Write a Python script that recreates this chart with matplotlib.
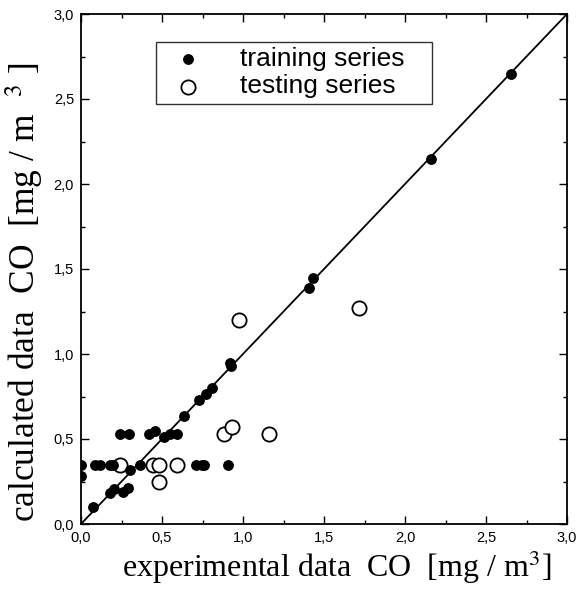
import matplotlib
matplotlib.use("Agg")
import matplotlib.pyplot as plt
from matplotlib.ticker import MultipleLocator, FuncFormatter

plt.rcParams["mathtext.fontset"] = "stix"

train_x = [0.0, 0.0, 0.076, 0.086, 0.117, 0.18, 0.20, 0.18, 0.204, 0.26, 0.29, 0.30,
           0.24, 0.296, 0.364, 0.42, 0.457, 0.512, 0.55, 0.595, 0.636, 0.73, 0.77,
           0.81, 0.92, 0.925, 0.71, 0.745, 0.76, 0.905, 1.41, 1.434, 2.16, 2.652]
train_y = [0.35, 0.28, 0.10, 0.35, 0.35, 0.35, 0.35, 0.18, 0.206, 0.19, 0.21, 0.32,
           0.53, 0.53, 0.35, 0.53, 0.55, 0.51, 0.53, 0.53, 0.635, 0.73, 0.763,
           0.80, 0.945, 0.93, 0.35, 0.35, 0.35, 0.35, 1.39, 1.445, 2.15, 2.645]

test_x = [0.24, 0.447, 0.48, 0.48, 0.59, 0.88, 0.934, 1.16, 0.975, 1.716]
test_y = [0.35, 0.35, 0.35, 0.25, 0.35, 0.53, 0.57, 0.53, 1.20, 1.27]

line_x = [0.0, 3.0]
line_y = [0.0, 3.0]

fig = plt.figure(figsize=(5.8, 5.97), dpi=100)
ax = fig.add_axes([81/580, 1-524/597, 486/580, 510/597])

ax.plot(line_x, line_y, color="black", lw=1.3, zorder=1)
ax.scatter(train_x, train_y, s=46, color="black", zorder=3, label="training series")
ax.scatter(test_x, test_y, s=105, facecolors="white", edgecolors="black",
           linewidths=1.3, zorder=2, label="testing series")

ax.set_xlim(0, 3)
ax.set_ylim(0, 3)
fmt = FuncFormatter(lambda v, p: f"{v:.1f}".replace(".", ","))
for a in (ax.xaxis, ax.yaxis):
    a.set_major_locator(MultipleLocator(0.5))
    a.set_minor_locator(MultipleLocator(0.25))
    a.set_major_formatter(fmt)
ax.tick_params(which="both", direction="in", top=True, right=True,
               labelsize=10.5, width=1)
ax.tick_params(which="major", length=6, pad=5)
ax.tick_params(which="minor", length=3)
for lab in ax.get_xticklabels() + ax.get_yticklabels():
    lab.set_family("Liberation Sans")
for sp in ax.spines.values():
    sp.set_linewidth(1.3)

ax.set_xlabel(r"experimental data  CO  [mg / m$^3$]", family="Liberation Serif",
              fontsize=23)
ax.xaxis.set_label_coords(0.527, -0.048)
ax.set_ylabel(r"calculated data  CO  [mg / m  $^{3}$ ]", family="Liberation Serif",
              fontsize=25.5)
ax.yaxis.set_label_coords(-0.072, 0.455)

leg = ax.legend(loc="upper left", bbox_to_anchor=(0.154, 0.83, 0.568, 0.115),
                mode="expand", frameon=True,
                fancybox=False, edgecolor="black", prop={"family": "Liberation Sans", "size": 19},
                handletextpad=1.0, borderpad=0.2, labelspacing=0.12, borderaxespad=0,
                handlelength=2.0)
leg.get_frame().set_linewidth(1.0)

fig.savefig("out.png", dpi=100)
